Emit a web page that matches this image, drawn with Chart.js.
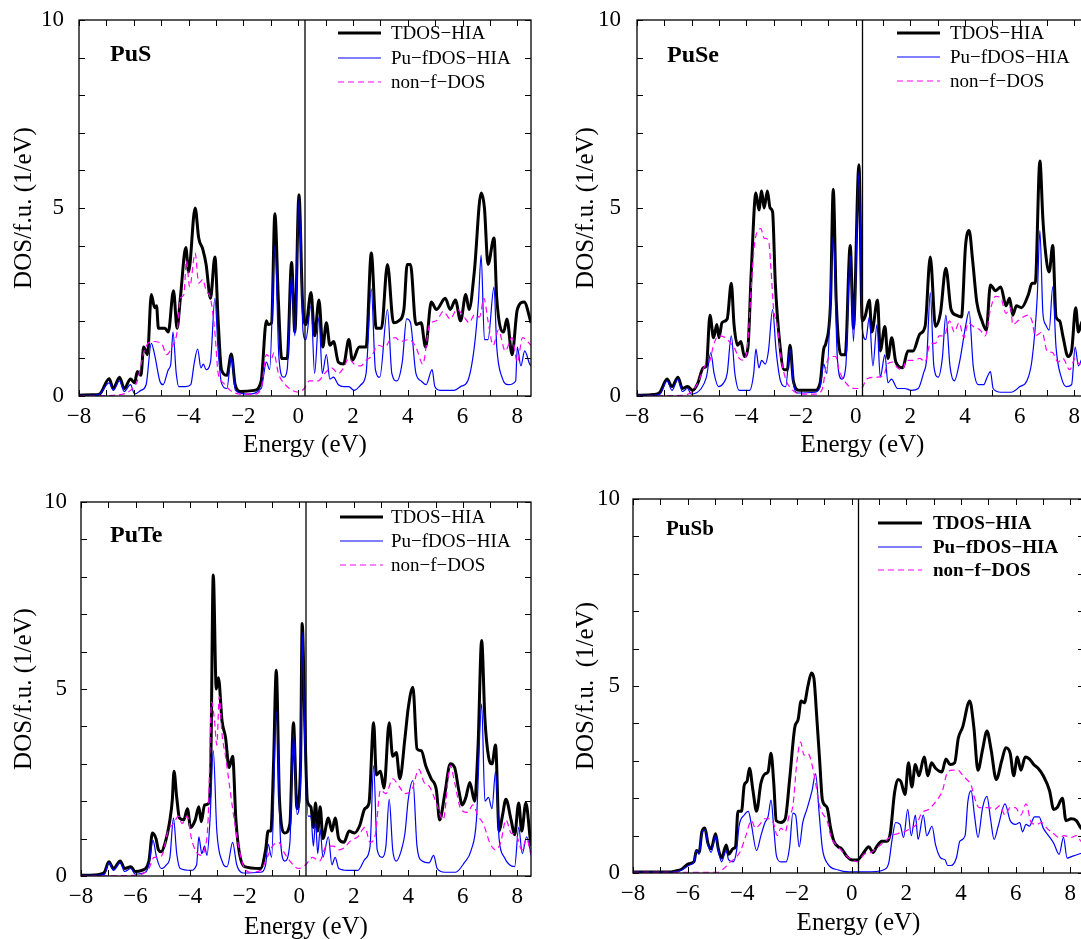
<!DOCTYPE html>
<html>
<head>
<meta charset="utf-8">
<script src="https://cdn.jsdelivr.net/npm/chart.js@4.4.1/dist/chart.umd.min.js"></script>
<style>
  html, body { margin: 0; padding: 0; background: #fff; overflow: hidden; width: 1081px; height: 939px; }
  .panel { position: absolute; }
</style>
</head>
<body>
<div class="panel" style="left:0px;top:0px;"><canvas id="c1" width="540" height="480"></canvas></div>
<div class="panel" style="left:540px;top:0px;"><canvas id="c2" width="560" height="480"></canvas></div>
<div class="panel" style="left:0px;top:480px;"><canvas id="c3" width="540" height="480"></canvas></div>
<div class="panel" style="left:540px;top:480px;"><canvas id="c4" width="560" height="480"></canvas></div>
<script>
// ---------------- DATA ----------------
const X_TICKS = [-8,-7,-6,-5,-4,-3,-2,-1,0,1,2,3,4,5,6,7,8];
const X_TICK_LABELS = ['\u22128','','\u22126','','\u22124','','\u22122','','0','','2','','4','','6','','8'];
const Y_TICKS = [0,1,2,3,4,5,6,7,8,9,10];
const Y_TICK_LABELS = ['0','','','','','5','','','','','10'];
const SERIES_NAMES = ['TDOS\u2212HIA', 'Pu\u2212fDOS\u2212HIA', 'non\u2212f\u2212DOS'];
const PANEL_NAMES = ['PuS', 'PuSe', 'PuTe', 'PuSb'];
const EF = 0.25;

// [energy (eV), DOS]
const PuS_tdos = [[-8,0.02],[-7.5,0.03],[-7.25,0.05],[-6.9,0.46],[-6.75,0.2],[-6.52,0.5],[-6.35,0.2],[-6.12,0.45],[-5.97,0.35],[-5.87,0.65],[-5.74,0.55],[-5.64,1.3],[-5.5,1.1],[-5.36,2.7],[-5.24,2.35],[-5.17,2.4],[-5.1,1.8],[-4.86,1.8],[-4.74,1.7],[-4.55,2.8],[-4.42,1.8],[-4.3,2.6],[-4.1,3.95],[-4.0,3.3],[-3.76,5.0],[-3.63,4.2],[-3.48,3.9],[-3.36,3.5],[-3.2,2.6],[-3.04,3.7],[-2.92,2.0],[-2.8,0.7],[-2.6,0.55],[-2.44,1.12],[-2.3,0.3],[-2.1,0.12],[-1.6,0.15],[-1.35,0.4],[-1.16,2.0],[-1.1,1.9],[-0.97,1.95],[-0.85,4.85],[-0.72,2.5],[-0.6,1.0],[-0.4,1.0],[-0.24,3.55],[-0.12,1.7],[0.03,5.35],[0.16,2.5],[0.28,1.9],[0.47,2.75],[0.6,1.6],[0.76,2.55],[0.9,1.3],[1.03,1.95],[1.16,1.35],[1.29,1.45],[1.47,0.9],[1.66,0.85],[1.85,1.5],[1.98,0.95],[2.23,1.3],[2.48,1.3],[2.67,3.8],[2.85,1.8],[3.04,1.8],[3.26,3.5],[3.48,1.95],[3.67,2.0],[3.86,2.3],[3.98,3.5],[4.1,3.5],[4.3,1.9],[4.49,1.95],[4.65,1.3],[4.86,2.5],[5.05,2.3],[5.37,2.6],[5.55,2.3],[5.74,2.55],[5.93,2.0],[6.12,2.7],[6.24,2.3],[6.43,3.3],[6.68,5.4],[6.8,5.0],[6.93,3.5],[7.15,4.2],[7.25,2.6],[7.5,1.7],[7.62,2.05],[7.81,1.1],[8.0,2.3],[8.25,2.5],[8.5,1.95]];
const PuS_fdos = [[-8,0.02],[-7.5,0.02],[-7.25,0.05],[-6.9,0.35],[-6.75,0.15],[-6.52,0.4],[-6.35,0.12],[-6.12,0.3],[-5.97,0.05],[-5.74,0.15],[-5.55,0.3],[-5.36,1.4],[-5.24,1.1],[-5.05,0.4],[-4.93,0.3],[-4.74,0.7],[-4.65,0.85],[-4.57,1.7],[-4.45,0.6],[-4.36,0.25],[-4.1,0.25],[-3.92,0.3],[-3.8,0.85],[-3.67,1.25],[-3.55,0.75],[-3.46,0.85],[-3.36,0.7],[-3.2,0.9],[-3.04,2.6],[-2.92,1.2],[-2.8,0.35],[-2.6,0.2],[-2.44,1.05],[-2.29,0.15],[-1.85,0.05],[-1.35,0.2],[-1.16,0.9],[-1.04,0.7],[-0.85,4.0],[-0.7,1.0],[-0.53,0.5],[-0.4,0.7],[-0.24,3.2],[-0.12,1.6],[0.03,5.25],[0.18,1.7],[0.28,1.5],[0.47,2.4],[0.6,0.6],[0.76,2.1],[0.88,0.6],[1.03,1.1],[1.16,0.45],[1.29,0.5],[1.47,0.3],[1.66,0.25],[1.85,0.25],[2.04,0.15],[2.29,0.3],[2.48,0.6],[2.67,2.85],[2.82,0.7],[2.98,0.5],[3.26,2.3],[3.42,0.6],[3.6,0.4],[3.8,0.9],[3.96,2.05],[4.1,1.95],[4.3,0.6],[4.49,0.4],[4.67,0.3],[4.89,0.7],[4.99,0.25],[5.18,0.15],[5.43,0.15],[5.69,0.15],[5.93,0.25],[6.19,0.4],[6.43,1.3],[6.58,2.5],[6.68,3.75],[6.8,1.5],[6.93,1.5],[7.15,2.9],[7.25,1.3],[7.44,0.5],[7.68,0.3],[7.94,0.4],[8.0,1.3],[8.13,0.8],[8.27,1.2],[8.45,0.85],[8.5,0.8]];
const PuS_nonf = [[-8,0.0],[-6.75,0.02],[-6.12,0.15],[-5.87,0.4],[-5.62,1.2],[-5.36,1.45],[-4.99,1.4],[-4.8,1.1],[-4.61,1.3],[-4.42,1.7],[-4.3,2.6],[-4.17,2.7],[-4.08,3.6],[-3.96,2.9],[-3.76,3.8],[-3.63,3.0],[-3.48,3.1],[-3.36,2.8],[-3.2,2.6],[-3.04,1.7],[-2.92,0.6],[-2.73,0.35],[-2.48,0.15],[-2.1,0.05],[-1.6,0.05],[-1.35,0.2],[-1.16,1.1],[-0.97,1.0],[-0.89,1.15],[-0.72,0.6],[-0.47,0.3],[-0.22,0.15],[0.03,0.1],[0.22,0.2],[0.41,0.4],[0.72,0.4],[0.97,0.6],[1.22,0.75],[1.47,0.6],[1.66,0.75],[1.85,1.0],[2.04,0.85],[2.29,0.8],[2.48,0.95],[2.67,1.05],[2.92,1.35],[3.17,1.3],[3.36,1.5],[3.55,1.55],[3.73,1.45],[4.05,1.5],[4.3,1.3],[4.55,0.85],[4.8,1.9],[5.05,2.0],[5.3,2.25],[5.55,2.05],[5.8,2.3],[6.06,2.1],[6.24,1.95],[6.43,2.15],[6.62,2.1],[6.78,2.6],[6.93,2.0],[7.12,1.35],[7.31,1.75],[7.56,1.2],[7.81,1.55],[8.0,0.9],[8.19,1.55],[8.5,1.35]];

const PuSe_tdos = [[-8,0.02],[-7.4,0.04],[-7.16,0.1],[-6.9,0.45],[-6.72,0.25],[-6.5,0.5],[-6.34,0.2],[-6.15,0.25],[-5.96,0.15],[-5.77,0.35],[-5.58,0.75],[-5.46,0.8],[-5.33,2.15],[-5.2,1.55],[-5.08,1.9],[-5.0,1.55],[-4.89,1.95],[-4.7,2.05],[-4.55,3.0],[-4.45,1.9],[-4.32,1.35],[-4.2,1.45],[-4.07,1.05],[-3.94,1.3],[-3.82,3.3],[-3.65,5.4],[-3.54,4.95],[-3.44,5.45],[-3.35,5.0],[-3.23,5.45],[-3.13,5.0],[-3.04,4.9],[-2.94,3.0],[-2.79,1.5],[-2.62,0.7],[-2.5,0.7],[-2.4,1.35],[-2.28,0.4],[-2.05,0.15],[-1.49,0.15],[-1.3,0.35],[-1.17,1.25],[-1.09,1.4],[-0.92,2.5],[-0.82,5.5],[-0.71,2.5],[-0.54,1.1],[-0.38,1.1],[-0.2,4.0],[-0.08,1.8],[0.12,6.15],[0.24,2.0],[0.34,2.1],[0.5,2.55],[0.59,1.7],[0.8,2.55],[0.9,1.2],[1.07,1.85],[1.18,1.0],[1.32,1.55],[1.47,0.9],[1.72,0.75],[1.91,1.2],[2.1,1.2],[2.35,1.65],[2.54,1.85],[2.73,3.7],[2.92,1.85],[3.1,2.2],[3.3,3.4],[3.49,2.3],[3.68,2.15],[3.87,2.1],[4.02,4.0],[4.15,4.4],[4.28,3.6],[4.43,2.5],[4.62,2.0],[4.78,1.75],[4.93,2.95],[5.12,2.8],[5.31,2.9],[5.5,2.4],[5.63,2.6],[5.75,2.15],[5.88,2.4],[6.07,2.35],[6.32,2.7],[6.45,3.0],[6.57,3.0],[6.74,6.25],[6.85,4.7],[6.95,3.8],[7.08,3.3],[7.21,4.0],[7.33,2.1],[7.46,2.0],[7.58,1.6],[7.77,1.05],[7.9,1.2],[8.05,2.35],[8.15,1.7],[8.3,2.0],[8.5,1.8]];
const PuSe_fdos = [[-8,0.02],[-7.4,0.02],[-7.16,0.05],[-6.9,0.4],[-6.72,0.15],[-6.5,0.45],[-6.34,0.12],[-6.15,0.2],[-6.02,0.05],[-5.65,0.2],[-5.46,0.5],[-5.3,1.15],[-5.18,0.6],[-5.02,0.25],[-4.83,0.35],[-4.7,0.6],[-4.55,1.6],[-4.42,0.6],[-4.26,0.15],[-3.88,0.15],[-3.73,0.6],[-3.65,1.25],[-3.54,0.75],[-3.44,0.95],[-3.31,0.85],[-3.19,1.2],[-3.04,2.3],[-2.91,1.2],[-2.75,0.4],[-2.56,0.25],[-2.4,1.25],[-2.27,0.3],[-2.12,0.08],[-1.49,0.1],[-1.3,0.25],[-1.17,0.85],[-1.05,0.6],[-0.82,4.25],[-0.67,1.0],[-0.51,0.45],[-0.36,0.8],[-0.2,3.75],[-0.08,1.45],[0.12,5.95],[0.24,1.8],[0.37,1.5],[0.5,2.1],[0.63,0.8],[0.78,1.9],[0.9,0.5],[1.07,1.1],[1.18,0.35],[1.31,0.45],[1.53,0.2],[1.79,0.2],[2.04,0.15],[2.29,0.2],[2.48,0.6],[2.6,1.0],[2.73,2.75],[2.86,0.8],[3.02,0.5],[3.17,1.0],[3.3,2.15],[3.45,0.8],[3.61,0.4],[3.8,0.9],[4.02,1.85],[4.15,2.25],[4.3,0.8],[4.49,0.3],[4.68,0.3],[4.81,0.5],[4.93,0.65],[5.03,0.2],[5.31,0.1],[5.69,0.1],[6.01,0.25],[6.26,0.4],[6.45,0.95],[6.64,2.6],[6.74,4.4],[6.85,2.2],[6.95,1.9],[7.08,1.75],[7.21,2.9],[7.33,1.3],[7.52,0.5],[7.71,0.25],[7.9,0.3],[8.03,1.3],[8.15,0.8],[8.3,1.0],[8.5,0.9]];
const PuSe_nonf = [[-8,0.0],[-6.3,0.02],[-6.02,0.1],[-5.77,0.35],[-5.52,0.8],[-5.33,0.95],[-5.2,1.35],[-5.02,1.6],[-4.76,1.55],[-4.57,1.4],[-4.45,1.3],[-4.26,1.0],[-4.07,0.95],[-3.94,1.5],[-3.82,2.9],[-3.69,4.1],[-3.47,4.45],[-3.35,4.2],[-3.19,4.15],[-3.1,3.4],[-3.0,2.3],[-2.87,1.9],[-2.75,1.1],[-2.56,0.45],[-2.37,0.2],[-1.99,0.05],[-1.49,0.05],[-1.24,0.15],[-1.05,0.9],[-0.92,1.05],[-0.73,1.05],[-0.61,0.7],[-0.36,0.35],[-0.04,0.2],[0.21,0.2],[0.4,0.45],[0.78,0.5],[1.03,0.55],[1.16,0.85],[1.35,0.9],[1.53,0.75],[1.72,0.7],[1.85,0.95],[2.1,0.95],[2.35,1.0],[2.54,0.9],[2.73,1.4],[2.92,1.4],[3.05,1.6],[3.24,1.6],[3.43,2.0],[3.61,1.7],[3.78,1.95],[3.96,1.55],[4.12,1.95],[4.3,1.85],[4.56,1.75],[4.74,1.6],[4.93,2.3],[5.12,2.65],[5.31,2.6],[5.5,2.2],[5.66,2.35],[5.75,1.9],[5.94,2.0],[6.13,2.1],[6.32,2.15],[6.45,2.0],[6.57,1.6],[6.82,1.7],[7.0,1.2],[7.21,1.15],[7.4,0.9],[7.58,1.0],[7.83,0.7],[8.03,1.0],[8.18,0.85],[8.5,0.9]];

const PuTe_tdos = [[-8,0.02],[-7.5,0.03],[-7.3,0.05],[-7.14,0.1],[-6.98,0.38],[-6.81,0.2],[-6.56,0.4],[-6.4,0.2],[-6.17,0.25],[-6.02,0.12],[-5.77,0.15],[-5.51,0.4],[-5.38,1.15],[-5.25,1.0],[-5.16,0.7],[-5.06,0.65],[-4.93,0.85],[-4.74,1.5],[-4.65,2.05],[-4.59,2.8],[-4.49,2.1],[-4.39,1.55],[-4.23,1.5],[-4.1,1.8],[-3.98,1.3],[-3.81,1.5],[-3.68,1.85],[-3.59,1.45],[-3.47,1.9],[-3.31,1.95],[-3.24,3.0],[-3.15,8.05],[-3.04,5.0],[-2.96,5.3],[-2.83,4.15],[-2.7,3.7],[-2.57,2.9],[-2.44,3.2],[-2.32,1.5],[-2.19,0.6],[-2.0,0.25],[-1.42,0.2],[-1.23,0.7],[-1.14,1.2],[-1.04,1.2],[-0.94,3.0],[-0.84,5.5],[-0.72,2.0],[-0.53,1.15],[-0.34,1.4],[-0.21,4.1],[-0.08,1.8],[0.05,3.0],[0.11,6.75],[0.21,4.0],[0.3,2.0],[0.43,1.85],[0.52,1.3],[0.6,1.95],[0.68,1.2],[0.77,1.85],[0.87,1.0],[1.07,1.55],[1.2,1.2],[1.32,1.55],[1.45,1.0],[1.64,0.9],[1.83,1.2],[2.03,1.15],[2.22,1.35],[2.41,1.8],[2.56,1.95],[2.73,4.1],[2.83,2.7],[2.98,2.8],[3.11,2.35],[3.3,4.1],[3.43,3.2],[3.56,3.3],[3.69,2.6],[3.88,3.7],[4.0,4.5],[4.17,5.05],[4.32,3.4],[4.48,3.35],[4.64,2.95],[4.84,2.6],[5.03,2.3],[5.15,1.5],[5.34,2.2],[5.54,3.0],[5.7,2.9],[5.85,2.3],[5.98,1.9],[6.11,2.1],[6.26,2.5],[6.43,2.0],[6.56,3.5],[6.69,6.3],[6.81,4.2],[6.94,3.2],[7.07,3.0],[7.2,3.5],[7.33,1.2],[7.45,1.6],[7.58,2.05],[7.77,1.5],[7.9,1.1],[8.05,1.95],[8.16,1.2],[8.31,1.95],[8.47,1.0],[8.5,0.8]];
const PuTe_fdos = [[-8,0.02],[-7.4,0.02],[-7.14,0.05],[-6.98,0.35],[-6.81,0.15],[-6.56,0.35],[-6.4,0.12],[-6.17,0.2],[-6.02,0.05],[-5.64,0.1],[-5.51,0.3],[-5.36,0.95],[-5.23,0.5],[-5.06,0.2],[-4.87,0.3],[-4.74,0.5],[-4.61,1.55],[-4.49,0.6],[-4.36,0.2],[-3.98,0.15],[-3.76,0.3],[-3.68,1.05],[-3.57,0.6],[-3.47,0.8],[-3.38,0.55],[-3.27,1.5],[-3.15,3.35],[-3.02,1.2],[-2.83,0.4],[-2.64,0.25],[-2.44,0.9],[-2.29,0.3],[-2.06,0.08],[-1.42,0.1],[-1.23,0.3],[-1.14,0.85],[-1.01,0.5],[-0.84,4.4],[-0.68,0.9],[-0.53,0.4],[-0.34,0.9],[-0.21,3.8],[-0.08,1.65],[0.05,2.5],[0.11,6.5],[0.21,3.5],[0.33,1.6],[0.43,1.6],[0.52,0.8],[0.6,1.45],[0.68,0.6],[0.77,1.25],[0.87,0.5],[1.07,1.05],[1.2,0.3],[1.32,0.5],[1.45,0.2],[1.77,0.15],[2.15,0.15],[2.41,0.45],[2.6,0.8],[2.73,2.95],[2.86,0.7],[3.05,0.5],[3.18,0.8],[3.3,2.05],[3.43,0.7],[3.56,0.4],[3.75,0.7],[3.88,1.15],[4.0,2.05],[4.17,2.55],[4.32,0.8],[4.51,0.4],[4.76,0.35],[4.93,0.55],[5.06,0.2],[5.34,0.1],[5.73,0.1],[6.05,0.35],[6.31,0.7],[6.5,1.5],[6.69,4.6],[6.81,2.0],[6.94,2.1],[7.07,1.8],[7.2,2.8],[7.33,1.0],[7.52,0.5],[7.71,0.3],[7.9,0.25],[8.05,1.3],[8.18,0.6],[8.34,1.05],[8.5,0.6]];
const PuTe_nonf = [[-8,0.0],[-6.0,0.02],[-5.77,0.05],[-5.51,0.2],[-5.32,0.5],[-5.13,0.5],[-5.0,0.6],[-4.81,1.2],[-4.61,1.4],[-4.42,1.6],[-4.3,1.4],[-4.1,1.6],[-3.95,1.0],[-3.78,0.65],[-3.59,0.55],[-3.47,0.7],[-3.34,1.5],[-3.21,4.65],[-3.11,4.2],[-3.02,3.5],[-2.93,4.8],[-2.83,3.8],[-2.7,3.2],[-2.57,2.5],[-2.44,1.8],[-2.25,0.9],[-2.06,0.3],[-1.8,0.1],[-1.42,0.15],[-1.17,0.5],[-0.98,0.8],[-0.76,0.9],[-0.53,0.6],[-0.34,0.4],[-0.02,0.2],[0.24,0.3],[0.49,0.5],[0.75,0.4],[1.0,0.8],[1.26,0.8],[1.45,0.7],[1.64,0.75],[1.9,0.95],[2.15,1.05],[2.41,1.3],[2.6,0.9],[2.79,1.1],[2.98,2.3],[3.18,2.2],[3.43,2.6],[3.66,2.4],[3.88,2.2],[4.13,2.3],[4.39,2.85],[4.58,2.5],[4.77,2.4],[5.03,1.95],[5.28,1.5],[5.54,2.95],[5.7,2.5],[5.92,1.8],[6.17,1.7],[6.37,1.9],[6.56,1.6],[6.75,1.4],[7.01,0.85],[7.2,0.7],[7.39,0.9],[7.58,1.5],[7.77,1.15],[7.96,1.1],[8.16,0.7],[8.34,1.0],[8.5,0.55]];

const PuSb_tdos = [[-8,0.03],[-6.6,0.03],[-6.47,0.05],[-6.22,0.1],[-5.96,0.25],[-5.77,0.3],[-5.68,0.6],[-5.58,0.55],[-5.48,1.1],[-5.37,1.2],[-5.26,0.8],[-5.14,0.65],[-4.98,1.05],[-4.88,0.65],[-4.76,0.4],[-4.59,0.75],[-4.5,0.5],[-4.34,0.65],[-4.25,0.7],[-4.16,1.65],[-4.03,1.65],[-3.93,2.35],[-3.83,2.45],[-3.74,2.8],[-3.61,2.2],[-3.48,1.65],[-3.32,2.4],[-3.17,2.65],[-3.06,2.7],[-2.95,3.2],[-2.85,2.4],[-2.76,1.4],[-2.59,1.35],[-2.43,1.45],[-2.27,2.5],[-2.08,3.9],[-1.96,4.1],[-1.85,4.6],[-1.73,4.55],[-1.6,5.0],[-1.47,5.35],[-1.38,5.2],[-1.28,4.2],[-1.17,3.0],[-1.07,1.95],[-0.9,1.75],[-0.77,1.2],[-0.65,0.85],[-0.49,0.7],[-0.37,0.65],[-0.18,0.45],[0.02,0.35],[0.21,0.35],[0.4,0.5],[0.63,0.7],[0.78,0.55],[0.91,0.7],[1.1,0.85],[1.29,0.85],[1.41,1.05],[1.57,2.15],[1.69,2.5],[1.8,2.45],[1.95,2.1],[2.08,2.95],[2.2,2.3],[2.33,2.9],[2.46,2.6],[2.65,3.1],[2.79,2.6],[2.92,2.95],[3.07,2.8],[3.3,2.7],[3.45,3.05],[3.6,2.9],[3.77,2.95],[3.9,3.6],[4.06,3.9],[4.32,4.6],[4.47,3.9],[4.62,2.75],[4.79,3.3],[4.95,3.8],[5.1,3.3],[5.29,2.5],[5.49,3.0],[5.64,3.35],[5.8,3.2],[5.93,2.6],[6.06,3.1],[6.19,2.75],[6.35,3.1],[6.5,3.05],[6.66,2.9],[6.82,2.8],[7.01,2.6],[7.24,2.2],[7.39,1.7],[7.52,1.75],[7.71,2.0],[7.84,1.4],[8.03,1.45],[8.22,1.4],[8.39,1.2],[8.5,1.15]];
const PuSb_fdos = [[-8,0.02],[-6.6,0.02],[-6.22,0.08],[-5.96,0.2],[-5.77,0.3],[-5.68,0.6],[-5.58,0.5],[-5.48,1.05],[-5.37,1.15],[-5.26,0.75],[-5.14,0.55],[-4.98,1.0],[-4.88,0.6],[-4.76,0.3],[-4.59,0.6],[-4.5,0.35],[-4.34,0.3],[-4.21,0.6],[-4.12,1.25],[-3.93,1.55],[-3.78,1.65],[-3.67,1.3],[-3.48,0.6],[-3.32,1.0],[-3.17,1.35],[-3.06,1.5],[-2.95,1.95],[-2.85,1.2],[-2.75,0.45],[-2.59,0.3],[-2.4,0.3],[-2.27,0.7],[-2.15,1.6],[-2.05,1.55],[-1.92,0.7],[-1.79,1.35],[-1.64,1.7],[-1.45,2.2],[-1.32,2.65],[-1.19,1.6],[-1.07,0.65],[-0.88,0.25],[-0.49,0.08],[-0.11,0.03],[0.91,0.04],[1.16,0.08],[1.35,0.25],[1.48,0.9],[1.61,1.35],[1.77,1.3],[1.9,0.95],[2.05,1.7],[2.18,1.0],[2.33,1.55],[2.43,0.9],[2.62,1.55],[2.75,1.0],[2.94,1.25],[3.07,0.75],[3.26,0.4],[3.42,0.35],[3.51,0.2],[3.64,0.2],[3.83,0.4],[3.96,0.85],[4.15,1.0],[4.25,1.9],[4.37,2.2],[4.5,1.5],[4.62,0.95],[4.79,1.75],[4.95,2.05],[5.08,1.45],[5.21,0.9],[5.36,1.25],[5.61,1.85],[5.8,1.4],[5.99,1.3],[6.15,1.35],[6.25,1.1],[6.38,1.3],[6.5,1.25],[6.69,1.5],[6.86,1.5],[7.01,1.2],[7.2,1.0],[7.39,0.8],[7.59,0.5],[7.75,0.95],[7.88,0.4],[8.09,0.45],[8.29,0.5],[8.5,0.55]];
const PuSb_nonf = [[-8,0.02],[-4.9,0.02],[-4.63,0.15],[-4.44,0.3],[-4.25,0.4],[-4.06,0.6],[-3.87,1.0],[-3.67,1.4],[-3.52,1.2],[-3.36,1.3],[-3.19,1.45],[-3.04,1.45],[-2.87,1.35],[-2.72,1.0],[-2.59,1.2],[-2.43,1.1],[-2.3,1.5],[-2.15,1.8],[-2.0,3.0],[-1.87,3.5],[-1.74,3.15],[-1.6,3.2],[-1.45,2.9],[-1.32,2.4],[-1.19,1.85],[-1.07,1.6],[-0.9,1.4],[-0.75,0.95],[-0.56,0.75],[-0.37,0.6],[-0.18,0.45],[0.02,0.35],[0.21,0.3],[0.46,0.5],[0.71,0.55],[0.97,0.7],[1.22,0.85],[1.48,1.0],[1.67,1.05],[1.92,1.1],[2.18,1.2],[2.37,1.3],[2.56,1.6],[2.81,1.7],[3.07,1.9],[3.32,2.2],[3.51,2.7],[3.7,2.75],[3.9,2.75],[4.02,2.65],[4.21,2.5],[4.37,2.35],[4.5,2.0],[4.66,1.75],[4.85,1.75],[5.04,1.75],[5.23,1.7],[5.42,1.8],[5.61,1.55],[5.8,1.75],[5.99,1.75],[6.19,1.55],[6.38,1.85],[6.57,1.35],[6.76,1.3],[6.95,1.35],[7.14,1.2],[7.39,1.05],[7.59,0.95],[7.78,1.0],[8.03,0.95],[8.22,1.0],[8.39,0.85],[8.5,0.8]];

// ---------------- STYLE / LAYOUT ----------------
const FONT = "'Liberation Serif', 'Times New Roman', serif";
const COLORS = ['#000000', '#0000ff', '#ff00ff'];
const WIDTHS = [3, 1.2, 1.2];
const DASHES = [[], [], [6, 4]];

const panels = [
  { canvas: 'c1', name: PANEL_NAMES[0], series: [PuS_tdos, PuS_fdos, PuS_nonf],
    yw: 79, top: 20, right: 9, xh: 84, xTitlePad: 20, xTickPad: 7, yTitlePad: 9, yTickPad: 15,
    ytitle: 'DOS/f.u. (1/eV)', lab: { dx: 31, dy: 35, size: 24 },
    leg: { dx: 259, len: 43, tdx: 312, rows: [13, 38, 62], size: 19, bold: false } },
  { canvas: 'c2', name: PANEL_NAMES[1], series: [PuSe_tdos, PuSe_fdos, PuSe_nonf],
    yw: 97, top: 20, right: 12, xh: 84, xTitlePad: 20, xTickPad: 7, yTitlePad: 31, yTickPad: 16,
    ytitle: 'DOS/f.u. (1/eV)', lab: { dx: 30, dy: 36, size: 24 },
    leg: { dx: 260, len: 43, tdx: 313, rows: [13, 37, 61], size: 19, bold: false } },
  { canvas: 'c3', name: PANEL_NAMES[2], series: [PuTe_tdos, PuTe_fdos, PuTe_nonf],
    yw: 81, top: 22, right: 9, xh: 84, xTitlePad: 18, xTickPad: 7, yTitlePad: 9, yTickPad: 14,
    ytitle: 'DOS/f.u. (1/eV)', lab: { dx: 29, dy: 34, size: 24 },
    leg: { dx: 259, len: 43, tdx: 310, rows: [15, 39, 63], size: 19, bold: false } },
  { canvas: 'c4', name: PANEL_NAMES[3], series: [PuSb_tdos, PuSb_fdos, PuSb_nonf],
    yw: 93, top: 19, right: 16, xh: 87, xTitlePad: 22, xTickPad: 7, yTitlePad: 31, yTickPad: 13,
    ytitle: 'DOS/f.u.  (1/eV)', lab: { dx: 33, dy: 31, size: 21 },
    leg: { dx: 245, len: 44, tdx: 300, rows: [24, 48, 71], size: 19, bold: true } }
];

const TICK_LEN = 6;

const decor = {
  id: 'decor',
  afterDraw(chart, args, opts) {
    const p = opts.panel;
    const { ctx, chartArea: a } = chart;
    const xs = chart.scales.x, ys = chart.scales.y;
    ctx.save();
    ctx.strokeStyle = '#000';
    ctx.lineWidth = 1.3;
    ctx.setLineDash([]);
    ctx.strokeRect(a.left, a.top, a.right - a.left, a.bottom - a.top);
    ctx.lineWidth = 1;
    ctx.beginPath();
    X_TICKS.forEach(v => {
      const px = Math.round(xs.getPixelForValue(v)) + 0.5;
      ctx.moveTo(px, a.bottom); ctx.lineTo(px, a.bottom - TICK_LEN);
      ctx.moveTo(px, a.top); ctx.lineTo(px, a.top + TICK_LEN);
    });
    Y_TICKS.forEach(v => {
      const py = Math.round(ys.getPixelForValue(v)) + 0.5;
      ctx.moveTo(a.left, py); ctx.lineTo(a.left + TICK_LEN, py);
      ctx.moveTo(a.right, py); ctx.lineTo(a.right - TICK_LEN, py);
    });
    ctx.stroke();
    ctx.fillStyle = '#000';
    ctx.textBaseline = 'middle';
    ctx.textAlign = 'left';
    ctx.font = 'bold ' + p.lab.size + 'px ' + FONT;
    ctx.fillText(p.name, a.left + p.lab.dx, a.top + p.lab.dy);
    const ds = chart.data.datasets;
    ctx.font = (p.leg.bold ? 'bold ' : '') + p.leg.size + 'px ' + FONT;
    for (let i = 0; i < 3; i++) {
      const y = a.top + p.leg.rows[i];
      ctx.strokeStyle = ds[i].borderColor;
      ctx.lineWidth = ds[i].borderWidth;
      ctx.setLineDash(ds[i].borderDash || []);
      ctx.beginPath();
      ctx.moveTo(a.left + p.leg.dx, y);
      ctx.lineTo(a.left + p.leg.dx + p.leg.len, y);
      ctx.stroke();
      ctx.setLineDash([]);
      ctx.fillText(ds[i].label, a.left + p.leg.tdx, y + 1);
    }
    ctx.restore();
  }
};

function toXY(arr) { return arr.map(d => ({ x: d[0], y: d[1] })); }

panels.forEach(p => {
  const datasets = p.series.map((s, i) => ({
    label: SERIES_NAMES[i],
    data: toXY(s),
    borderColor: COLORS[i],
    borderWidth: WIDTHS[i],
    borderDash: DASHES[i],
    cubicInterpolationMode: 'monotone',
    order: 5 - i
  }));
  datasets.push({
    label: 'EF',
    data: [{ x: EF, y: Y_TICKS[0] }, { x: EF, y: Y_TICKS[Y_TICKS.length - 1] }],
    borderColor: '#000', borderWidth: 1.3, order: 1
  });
  new Chart(document.getElementById(p.canvas), {
    type: 'line',
    data: { datasets },
    options: {
      responsive: false, animation: false, devicePixelRatio: 1,
      layout: { padding: { left: 0, top: p.top, right: p.right, bottom: 0 } },
      elements: { point: { radius: 0, hoverRadius: 0 }, line: { tension: 0, borderJoinStyle: 'round', fill: false } },
      plugins: { legend: { display: false }, tooltip: { enabled: false }, decor: { panel: p } },
      events: [],
      scales: {
        x: {
          type: 'linear', min: -8, max: 8.5,
          afterBuildTicks: s => { s.ticks = X_TICKS.map(v => ({ value: v })); },
          afterFit: s => { s.height = p.xh; s.paddingLeft = 0; s.paddingRight = 0; },
          grid: { display: false, drawTicks: false },
          border: { display: false },
          ticks: { padding: p.xTickPad, color: '#000', autoSkip: false, maxRotation: 0,
                   font: { family: FONT, size: 23 }, callback: (v, i) => X_TICK_LABELS[i] },
          title: { display: true, text: 'Energy (eV)', color: '#000',
                   font: { family: FONT, size: 25 }, padding: { top: 0, bottom: p.xTitlePad } }
        },
        y: {
          type: 'linear', min: 0, max: 10,
          afterBuildTicks: s => { s.ticks = Y_TICKS.map(v => ({ value: v })); },
          afterFit: s => { s.width = p.yw; s.paddingTop = 0; s.paddingBottom = 0; },
          grid: { display: false, drawTicks: false },
          border: { display: false },
          ticks: { padding: p.yTickPad, color: '#000', autoSkip: false,
                   font: { family: FONT, size: 23 }, callback: (v, i) => Y_TICK_LABELS[i] },
          title: { display: true, text: p.ytitle, color: '#000',
                   font: { family: FONT, size: 25 }, padding: { top: p.yTitlePad, bottom: 0 } }
        }
      }
    },
    plugins: [decor]
  });
});
</script>
</body>
</html>
